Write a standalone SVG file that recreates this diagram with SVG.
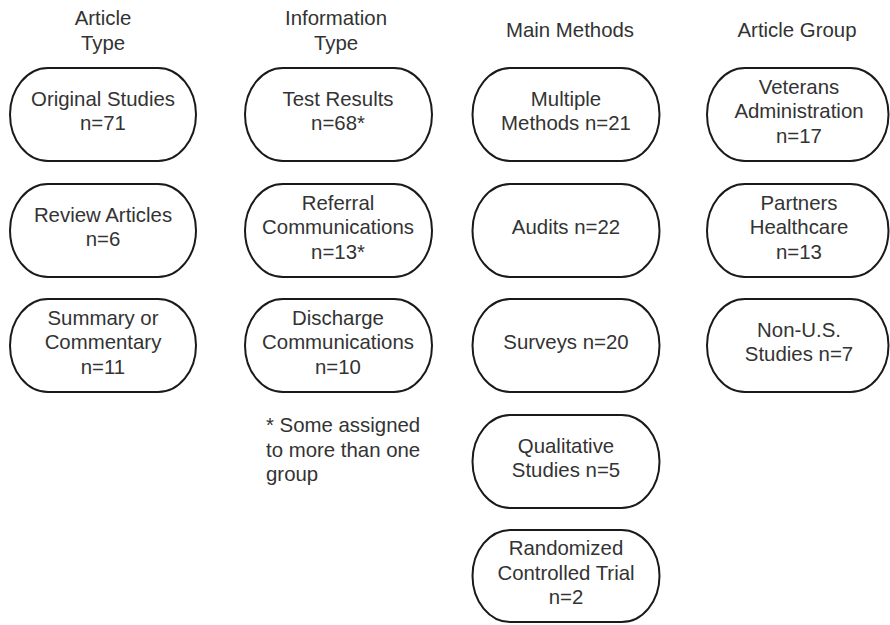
<svg xmlns="http://www.w3.org/2000/svg" width="890" height="625" viewBox="0 0 890 625">
  <style>
    .node rect { fill: #ffffff; stroke: #1a1a1a; stroke-width: 2; }
    text { font-family: "Liberation Sans", Arial, sans-serif; font-size: 20.4px; fill: #333333; }
    .c { text-anchor: middle; }
  </style>
  <rect x="0" y="0" width="890" height="625" fill="#ffffff"/>

  <!-- column headings -->
  <g id="headers">
    <text class="c" x="103" y="25">Article</text>
    <text class="c" x="103" y="49.5">Type</text>
    <text class="c" x="336" y="25">Information</text>
    <text class="c" x="336" y="49.5">Type</text>
    <text class="c" x="570" y="37">Main Methods</text>
    <text class="c" x="797" y="37">Article Group</text>
  </g>

  <!-- no connectors in this chart -->
  <g id="connectors"></g>

  <!-- Article Type -->
  <g id="original-studies" class="node">
    <rect x="10" y="68" width="186" height="93" rx="38" ry="46.5"/>
    <text class="c" x="103" y="105.5">Original Studies</text>
    <text class="c" x="103" y="130">n=71</text>
  </g>
  <g id="review-articles" class="node">
    <rect x="10" y="184" width="186" height="93" rx="38" ry="46.5"/>
    <text class="c" x="103" y="221.5">Review Articles</text>
    <text class="c" x="103" y="246">n=6</text>
  </g>
  <g id="summary-commentary" class="node">
    <rect x="10" y="299" width="186" height="93" rx="38" ry="46.5"/>
    <text class="c" x="103" y="324.5">Summary or</text>
    <text class="c" x="103" y="349">Commentary</text>
    <text class="c" x="103" y="373.5">n=11</text>
  </g>

  <!-- Information Type -->
  <g id="test-results" class="node">
    <rect x="245" y="68" width="187" height="93" rx="38" ry="46.5"/>
    <text class="c" x="338" y="105.5">Test Results</text>
    <text class="c" x="338" y="130">n=68*</text>
  </g>
  <g id="referral-communications" class="node">
    <rect x="245" y="184" width="187" height="93" rx="38" ry="46.5"/>
    <text class="c" x="338" y="209.5">Referral</text>
    <text class="c" x="338" y="234">Communications</text>
    <text class="c" x="338" y="258.5">n=13*</text>
  </g>
  <g id="discharge-communications" class="node">
    <rect x="245" y="299" width="187" height="93" rx="38" ry="46.5"/>
    <text class="c" x="338" y="324.5">Discharge</text>
    <text class="c" x="338" y="349">Communications</text>
    <text class="c" x="338" y="373.5">n=10</text>
  </g>
  <g id="footnote">
    <text x="266" y="432">* Some assigned</text>
    <text x="266" y="456.5">to more than one</text>
    <text x="266" y="481">group</text>
  </g>

  <!-- Main Methods -->
  <g id="multiple-methods" class="node">
    <rect x="472.5" y="68" width="187" height="93" rx="38" ry="46.5"/>
    <text class="c" x="566" y="105.5">Multiple</text>
    <text class="c" x="566" y="130">Methods n=21</text>
  </g>
  <g id="audits" class="node">
    <rect x="472.5" y="184" width="187" height="93" rx="38" ry="46.5"/>
    <text class="c" x="566" y="234">Audits n=22</text>
  </g>
  <g id="surveys" class="node">
    <rect x="472.5" y="299" width="187" height="93" rx="38" ry="46.5"/>
    <text class="c" x="566" y="349">Surveys n=20</text>
  </g>
  <g id="qualitative-studies" class="node">
    <rect x="472.5" y="415" width="187" height="93" rx="38" ry="46.5"/>
    <text class="c" x="566" y="452.5">Qualitative</text>
    <text class="c" x="566" y="477">Studies n=5</text>
  </g>
  <g id="randomized-controlled-trial" class="node">
    <rect x="472.5" y="530" width="187" height="92" rx="38" ry="46"/>
    <text class="c" x="566" y="555">Randomized</text>
    <text class="c" x="566" y="579.5">Controlled Trial</text>
    <text class="c" x="566" y="604">n=2</text>
  </g>

  <!-- Article Group -->
  <g id="veterans-administration" class="node">
    <rect x="707" y="68" width="181.5" height="93" rx="38" ry="46.5"/>
    <text class="c" x="799" y="93.5">Veterans</text>
    <text class="c" x="799" y="118">Administration</text>
    <text class="c" x="799" y="142.5">n=17</text>
  </g>
  <g id="partners-healthcare" class="node">
    <rect x="707" y="184" width="181.5" height="93" rx="38" ry="46.5"/>
    <text class="c" x="799" y="209.5">Partners</text>
    <text class="c" x="799" y="234">Healthcare</text>
    <text class="c" x="799" y="258.5">n=13</text>
  </g>
  <g id="non-us-studies" class="node">
    <rect x="707" y="299" width="181.5" height="93" rx="38" ry="46.5"/>
    <text class="c" x="799" y="336.5">Non-U.S.</text>
    <text class="c" x="799" y="361">Studies n=7</text>
  </g>
</svg>
